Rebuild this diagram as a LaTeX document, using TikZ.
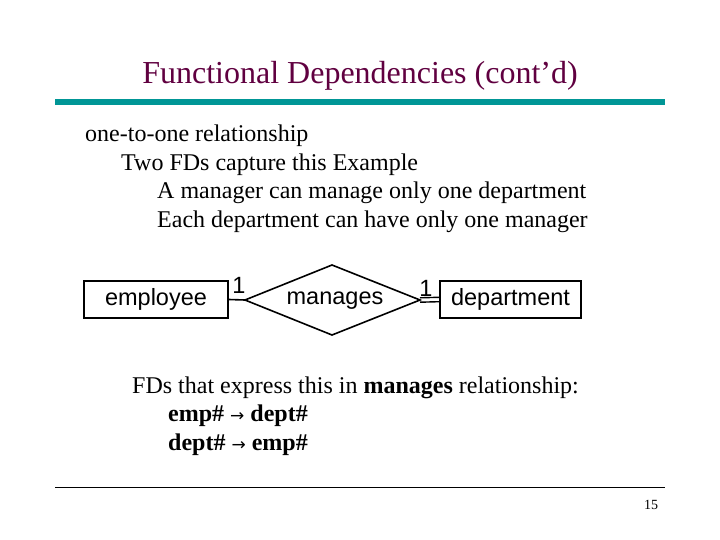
\documentclass[tikz,border=0pt]{standalone}
\usepackage{fontspec}
\setmainfont{Liberation Serif}
\newfontfamily\arial{Liberation Sans}
\newfontfamily\dejavu{DejaVu Sans}
\usetikzlibrary{shapes.geometric}
\definecolor{titlec}{RGB}{96,0,64}
\definecolor{barc}{RGB}{0,150,150}
\newcommand{\myarr}{ {\dejavu\fontsize{17}{20}\selectfont →} }
\begin{document}
\begin{tikzpicture}[x=1pt,y=-1pt,
  txt/.style={anchor=base west,inner sep=0pt,font=\fontsize{24}{28}\selectfont},
  ent/.style={draw,line width=1.6pt,minimum height=37pt,inner sep=0pt,font=\arial\fontsize{23.5}{28}\selectfont},
  card/.style={font=\arial\fontsize{23.5}{28}\selectfont,inner sep=0pt}]
\useasboundingbox (0,0) rectangle (720,540);
\node[anchor=base,inner sep=0pt,text=titlec,font=\fontsize{32}{36}\selectfont] (title) at (360,84) {Functional Dependencies (cont’d)};
\fill[barc] (55,99) rectangle (665,105);
\node[txt] (t1) at (85,142) {one-to-one relationship};
\node[txt] (t2) at (121,171) {Two FDs capture this Example};
\node[txt] (t3) at (157,199) {A manager can manage only one department};
\node[txt] (t4) at (157,228) {Each department can have only one manager};
\node[ent,minimum width=144pt] (emp) at (156,299.5) {employee};
\node[ent,minimum width=141pt] (dep) at (510.5,299.5) {department};
\draw[line width=1.6pt] (245,300) coordinate (dl) -- (332,265) -- (420,300) coordinate (dr) -- (332,335) -- cycle;
\node[card] (man) at (335,301) {manages};
\draw[line width=1.6pt] (emp.east) -- (dl);
\draw[line width=1.4pt] ([yshift=-2.2pt]dr) -- ([yshift=-2.2pt]dep.west);
\draw[line width=1.4pt] ([yshift=2.2pt]dr) -- ([yshift=2.2pt]dep.west);
\node[card] (c1) at (239,285) {1};
\node[card] (c2) at (426,288) {1};
\node[txt] (t5) at (132,393) {FDs that express this in \textbf{manages} relationship:};
\node[txt] (t6) at (168,421) {\textbf{emp\#}\myarr\textbf{dept\#}};
\node[txt] (t7) at (168,450) {\textbf{dept\#}\myarr\textbf{emp\#}};
\draw[line width=0.8pt] (55,487) -- (665,487);
\node[anchor=base,inner sep=0pt,font=\fontsize{14}{16}\selectfont] (pg) at (651,509) {15};
\end{tikzpicture}
\end{document}
